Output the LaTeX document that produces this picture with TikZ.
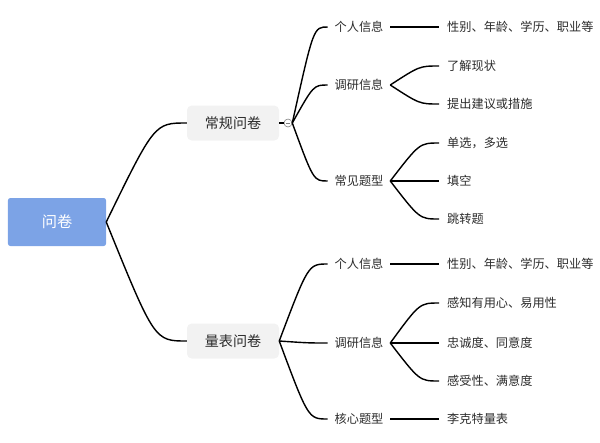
\documentclass[tikz,border=0pt]{standalone}
\usepackage{fontspec}
\newfontfamily\cjk{Noto Sans CJK SC}
\usepackage{xcolor}
\usetikzlibrary{calc}
\definecolor{rootblue}{HTML}{7CA3E6}
\definecolor{topicgray}{HTML}{F2F2F2}
\definecolor{txtgray}{HTML}{2B2B2B}
\tikzset{
  root/.style={fill=rootblue,rounded corners=2pt,minimum width=2.94cm,minimum height=1.44cm,
    text=white,font=\cjk\fontsize{13}{15}\selectfont},
  topic/.style={fill=topicgray,rounded corners=4pt,minimum width=2.76cm,minimum height=1.05cm,
    text=txtgray,font=\cjk\fontsize{12}{14}\selectfont},
  sub/.style={text=txtgray,font=\cjk\fontsize{10.4}{12}\selectfont,inner xsep=0.2cm,inner ysep=1pt},
  leaf/.style={sub,anchor=west,inner xsep=0.24cm},
  link/.style={line width=1.2pt},
  branch/.style={link,to path={let \p1=(\tikztostart),\p2=(\tikztotarget) in
    .. controls ({\x1+0.6*(\x2-\x1)},\y2) .. (\tikztotarget)}},
}
\begin{document}
\begin{tikzpicture}[x=0.03cm,y=-0.03cm]
  \useasboundingbox (0,0) rectangle (600,442);
  % root and main topics
  \node[root] (root) at (57,222) {问卷};
  \node[topic] (plain) at (233,123) {常规问卷};
  \node[topic] (scale) at (233,341) {量表问卷};
  \node[circle,draw=gray,fill=white,inner sep=0pt,minimum size=0.24cm,line width=0.5pt] (fold) at (288,123) {};
  \draw[gray,line width=0.6pt] ([xshift=-1.6pt]fold.center) -- ([xshift=1.6pt]fold.center);
  \draw[branch] (root.east) to (plain.west);
  \draw[branch] (root.east) to (scale.west);
  \draw[link] (plain.east) -- (fold.west);

  % 常规问卷
  \node[sub] (pinfo) at (359,27) {个人信息};
  \node[sub] (presearch) at (359,85) {调研信息};
  \node[sub] (ptype) at (359,181) {常见题型};
  \draw[branch] (fold.east) to (pinfo.west);
  \draw[branch] (fold.east) to (presearch.west);
  \draw[branch] (fold.east) to (ptype.west);

  \node[leaf] (pbasic) at (439,27) {性别、年龄、学历、职业等};
  \node[leaf] (pnow) at (439,66) {了解现状};
  \node[leaf] (padvice) at (439,104) {提出建议或措施};
  \node[leaf] (pchoice) at (439,143) {单选，多选};
  \node[leaf] (pfill) at (439,181) {填空};
  \node[leaf] (pjump) at (439,219) {跳转题};
  \draw[link] (pinfo.east) -- (pbasic.west);
  \draw[branch] (presearch.east) to (pnow.west);
  \draw[branch] (presearch.east) to (padvice.west);
  \draw[branch] (ptype.east) to (pchoice.west);
  \draw[branch] (ptype.east) to (pfill.west);
  \draw[branch] (ptype.east) to (pjump.west);

  % 量表问卷
  \node[sub] (sinfo) at (359,264) {个人信息};
  \node[sub] (sresearch) at (359,343) {调研信息};
  \node[sub] (score) at (359,419) {核心题型};
  \draw[branch] (scale.east) to (sinfo.west);
  \draw[branch] (scale.east) to (sresearch.west);
  \draw[branch] (scale.east) to (score.west);

  \node[leaf] (sbasic) at (439,264) {性别、年龄、学历、职业等};
  \node[leaf] (suse) at (439,303) {感知有用心、易用性};
  \node[leaf] (sloyal) at (439,343) {忠诚度、同意度};
  \node[leaf] (sfeel) at (439,381) {感受性、满意度};
  \node[leaf] (likert) at (439,419) {李克特量表};
  \draw[link] (sinfo.east) -- (sbasic.west);
  \draw[branch] (sresearch.east) to (suse.west);
  \draw[branch] (sresearch.east) to (sloyal.west);
  \draw[branch] (sresearch.east) to (sfeel.west);
  \draw[link] (score.east) -- (likert.west);
\end{tikzpicture}
\end{document}
